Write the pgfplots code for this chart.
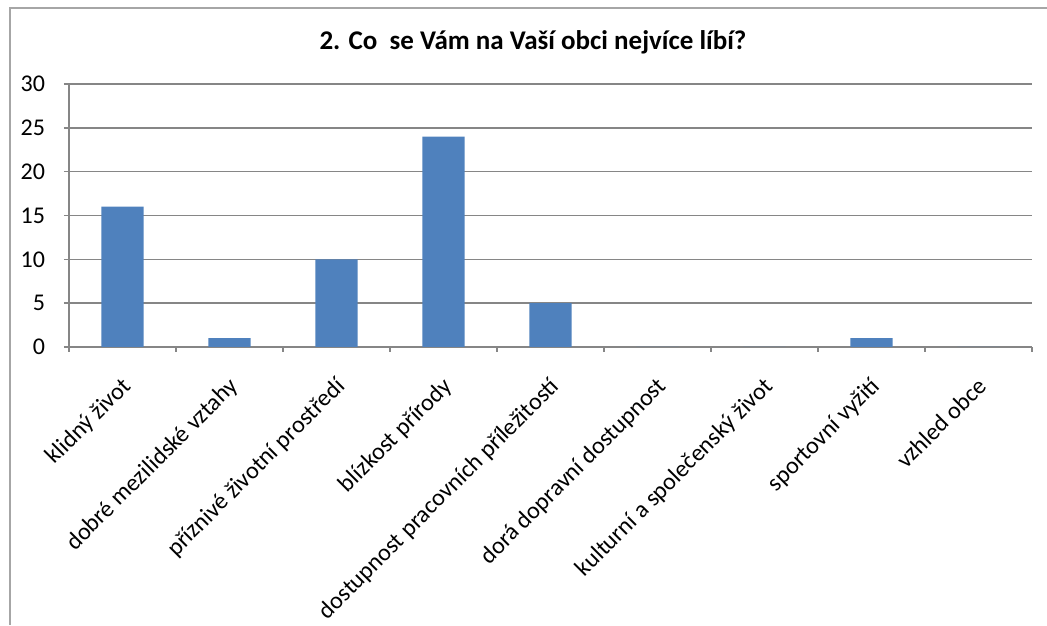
\documentclass[border=0pt]{standalone}
\usepackage{pgfplots}
\pgfplotsset{compat=1.18}
\usepackage{fontspec}
\setmainfont{Carlito}
\definecolor{barblue}{HTML}{4F81BD}
\definecolor{gridgray}{HTML}{868686}
\definecolor{framegray}{HTML}{A6A6A6}
\begin{document}
\begin{tikzpicture}
\useasboundingbox (0pt,0pt) rectangle (523.5pt,312.5pt);
\draw[framegray,line width=1.2pt] (5pt,0pt) -- (5pt,308.5pt) -- (523.5pt,308.5pt);
\begin{axis}[
  at={(34.5pt,139pt)}, anchor=south west,
  scale only axis, width=481.5pt, height=131.5pt,
  ymin=0, ymax=30, ytick={0,5,...,30},
  xmin=-0.5, xmax=8.5,
  xtick={0,...,8},
  xticklabels={klidný život,dobré mezilidské vztahy,příznivé životní prostředí,blízkost přírody,dostupnost pracovních příležitostí,dorá dopravní dostupnost,kulturní a společenský život,sportovní vyžití,vzhled obce},
  minor xtick={-0.5,0.5,...,8.5},
  axis x line*=bottom, axis y line*=left,
  axis line style={gridgray, line width=0.8pt},
  ymajorgrids, grid style={gridgray, line width=0.8pt},
  tick align=outside, tick pos=left,
  major tick length=2.5pt, minor tick length=2.5pt,
  tick style={gridgray, line width=0.8pt},
  xtick style={draw=none},
  minor x tick style={draw=gridgray},
  yticklabel style={font=\fontsize{12}{14}\selectfont, xshift=-6pt},
  /pgf/number format/assume math mode=true,
  xticklabel style={font=\fontsize{12}{14}\selectfont, rotate=45, anchor=north east, inner sep=1pt, xshift=-8pt, yshift=-6.5pt},
  title={2. Co\ \ se Vám na Vaší obci nejvíce líbí?},
  title style={font=\bfseries\fontsize{13.5}{15}\selectfont, at={(0.5,1)}, anchor=center, yshift=15pt, xshift=-8.75pt},
  clip=false,
]
\addplot[ybar, bar width=21pt, fill=barblue, draw=none] coordinates {
  (0,16) (1,1) (2,10) (3,24) (4,5) (5,0) (6,0) (7,1) (8,0)
};
\end{axis}
\end{tikzpicture}
\end{document}
